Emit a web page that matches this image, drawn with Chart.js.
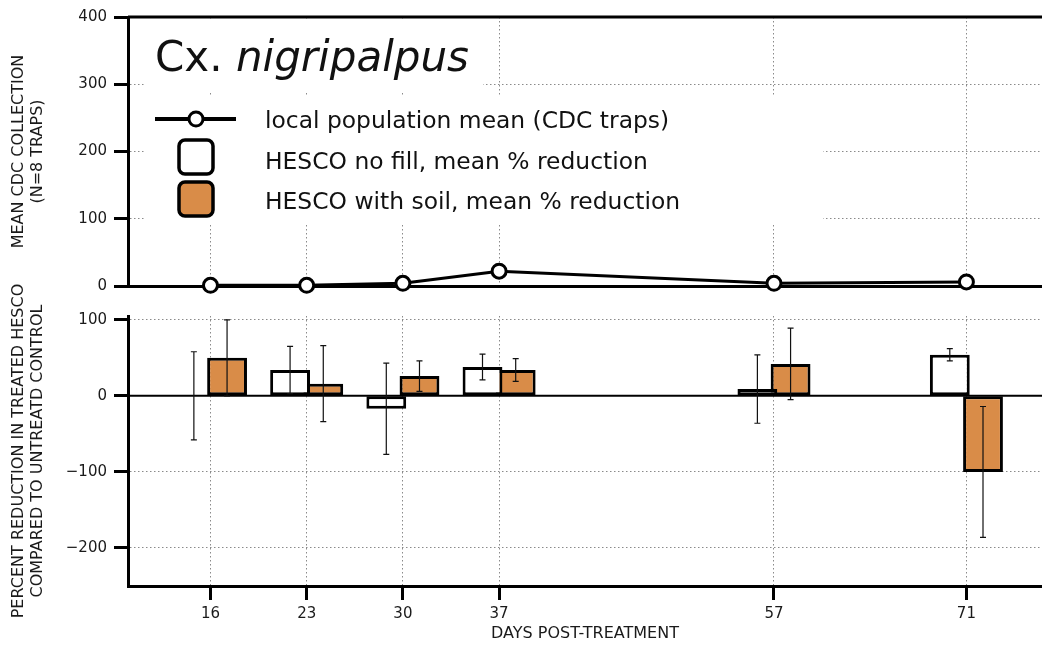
<!DOCTYPE html>
<html>
<head>
<meta charset="utf-8">
<title>Cx. nigripalpus</title>
<script src="https://cdn.jsdelivr.net/npm/chart.js@4.4.1/dist/chart.umd.min.js"></script>
<style>
    html, body { margin: 0; padding: 0; background: #fff; overflow: hidden; }
    #wrap { position: relative; width: 1042px; height: 649px; }
    canvas { position: absolute; left: 0; }
    #chart-top { top: 0; }
    #chart-bottom { top: 280px; }
</style>
</head>
<body>
<div id="wrap">
    <canvas id="chart-top" width="1042" height="296"></canvas>
    <canvas id="chart-bottom" width="1042" height="369"></canvas>
</div>
<script>
Chart.defaults.font.family = '"DejaVu Sans", sans-serif';
Chart.defaults.color = '#1a1a1a';
Chart.defaults.animation = false;

// ── data ────────────────────────────────────────────────────────────────────
const DAYS         = [16, 23, 30, 37, 57, 71];
const POP_MEAN     = [1, 1, 4, 22, 4, 6];          // mean CDC collection
const NO_FILL      = [0, 34, -17, 38, 9, 54];      // % reduction, HESCO no fill
const NO_FILL_ERR  = [58, 31, 60, 17, 45, 8];
const SOIL         = [50, 16, 26, 34, 42, -100];   // % reduction, HESCO with soil
const SOIL_ERR     = [50, 50, 20, 15, 47, 86];
const TOP_TICKS    = [0, 100, 200, 300, 400];
const BOTTOM_TICKS = [-200, -100, 0, 100];
const LEGEND_TEXT  = [
    'local population mean (CDC traps)',
    'HESCO no fill, mean % reduction',
    'HESCO with soil, mean % reduction',
];

const ORANGE = '#d98c48';
const GRID   = '#8a8a8a';
const DOTS   = [1.5, 2.5];
const AXIS_W = 128;
const TEXT_FONT = '"DejaVu Sans", sans-serif';

const pts = (ys) => DAYS.map((d, i) => ({ x: d, y: ys[i] }));
const minus = (v) => (v < 0 ? '\u2212' + Math.abs(v) : String(v));

function dayAxis(showTicks, height) {
    return {
        type: 'linear',
        min: 10,
        max: 76.5,
        offset: false,
        afterBuildTicks: s => { s.ticks = DAYS.map(v => ({ value: v })); },
        afterFit: s => { s.height = height; s.paddingLeft = 0; s.paddingRight = 0; },
        grid: {
            color: GRID, lineWidth: 1, offset: false,
            drawTicks: showTicks, tickLength: 14, tickWidth: 3, tickColor: '#000', tickBorderDash: [],
        },
        border: { color: '#000', width: 3, dash: DOTS },
        ticks: { display: showTicks, padding: 5, font: { size: 15 }, maxRotation: 0, autoSkip: false },
    };
}

function valueAxis(min, max, tickList, titleLines) {
    return {
        min, max,
        afterBuildTicks: s => { s.ticks = tickList.map(v => ({ value: v })); },
        afterFit: s => { s.width = AXIS_W; s.paddingTop = 0; s.paddingBottom = 0; },
        grid: { color: GRID, lineWidth: 1, tickLength: 14, tickWidth: 3, tickColor: '#000', tickBorderDash: [] },
        border: { color: '#000', width: 3, dash: DOTS },
        ticks: { padding: 7, font: { size: 15 }, callback: v => minus(v) },
        title: {
            display: true,
            text: titleLines,
            font: { size: 16, lineHeight: 1.2 },
            padding: { top: 9, bottom: 0 },
        },
    };
}

// ── title, legend and frame of the upper panel ──────────────────────────────
const topDecor = {
    id: 'topDecor',
    beforeDatasetsDraw(chart) {
        const { ctx, chartArea: a } = chart;
        ctx.save();
        ctx.fillStyle = '#fff';
        ctx.fillRect(145, a.top + 2, 338, 74);
        ctx.fillRect(145, 96, 678, 129);

        ctx.strokeStyle = '#000';
        ctx.lineWidth = 3;
        ctx.beginPath();
        ctx.moveTo(a.left, a.top);
        ctx.lineTo(a.right, a.top);
        ctx.stroke();

        ctx.fillStyle = '#111';
        ctx.textBaseline = 'alphabetic';
        ctx.font = '42px ' + TEXT_FONT;
        ctx.fillText('Cx. ', 155, 71);
        const w = ctx.measureText('Cx. ').width;
        ctx.font = 'oblique 42px ' + TEXT_FONT;
        ctx.fillText('nigripalpus', 155 + w, 71);

        // line + marker
        ctx.lineWidth = 4;
        ctx.beginPath();
        ctx.moveTo(155, 119);
        ctx.lineTo(236, 119);
        ctx.stroke();
        ctx.fillStyle = '#fff';
        ctx.lineWidth = 3;
        ctx.beginPath();
        ctx.arc(196, 119, 7, 0, Math.PI * 2);
        ctx.fill();
        ctx.stroke();

        // boxes
        ctx.lineWidth = 3.5;
        [['#fff', 140], [ORANGE, 182]].forEach(([fill, y]) => {
            ctx.fillStyle = fill;
            ctx.beginPath();
            ctx.roundRect(179, y, 34, 34, 6);
            ctx.fill();
            ctx.stroke();
        });

        ctx.fillStyle = '#111';
        ctx.font = '23.4px ' + TEXT_FONT;
        ctx.fillText(LEGEND_TEXT[0], 265, 128);
        ctx.fillText(LEGEND_TEXT[1], 265, 169);
        ctx.fillText(LEGEND_TEXT[2], 265, 209);
        ctx.restore();
    },
};

// ── solid zero line and error bars of the lower panel ───────────────────────
const zeroLine = {
    id: 'zeroLine',
    beforeDatasetsDraw(chart) {
        const { ctx, chartArea: a, scales: { y } } = chart;
        const y0 = y.getPixelForValue(0);
        ctx.save();
        ctx.strokeStyle = '#000';
        ctx.lineWidth = 2;
        ctx.beginPath();
        ctx.moveTo(a.left, y0);
        ctx.lineTo(a.right, y0);
        ctx.stroke();
        ctx.restore();
    },
};

const errorBars = {
    id: 'errorBars',
    afterDatasetsDraw(chart) {
        const { ctx, scales: { y } } = chart;
        ctx.save();
        ctx.strokeStyle = '#111';
        ctx.lineWidth = 1.2;
        chart.data.datasets.forEach((ds, di) => {
            chart.getDatasetMeta(di).data.forEach((bar, i) => {
                const v = ds.data[i].y;
                const e = ds.errors[i];
                const hi = y.getPixelForValue(v + e);
                const lo = y.getPixelForValue(v - e);
                ctx.beginPath();
                ctx.moveTo(bar.x, hi);
                ctx.lineTo(bar.x, lo);
                ctx.moveTo(bar.x - 3, hi);
                ctx.lineTo(bar.x + 3, hi);
                ctx.moveTo(bar.x - 3, lo);
                ctx.lineTo(bar.x + 3, lo);
                ctx.stroke();
            });
        });
        ctx.restore();
    },
};

const common = {
    responsive: false,
    maintainAspectRatio: false,
    devicePixelRatio: 1,
    plugins: { legend: { display: false }, tooltip: { enabled: false } },
};

// ── upper panel: local population (line) ────────────────────────────────────
new Chart(document.getElementById('chart-top'), {
    type: 'line',
    data: {
        datasets: [{
            label: LEGEND_TEXT[0],
            data: pts(POP_MEAN),
            borderColor: '#000',
            borderWidth: 3,
            pointRadius: 7,
            pointBorderWidth: 3,
            pointBackgroundColor: '#fff',
            pointBorderColor: '#000',
            tension: 0,
            clip: false,
        }],
    },
    options: {
        ...common,
        layout: { autoPadding: false, padding: { top: 17, right: 0, bottom: 0, left: 0 } },
        scales: {
            x: dayAxis(false, 10),
            y: valueAxis(0, 400, TOP_TICKS, ['MEAN CDC COLLECTION', '(N=8 TRAPS)']),
        },
    },
    plugins: [topDecor],
});

// ── lower panel: % reduction (bars) ─────────────────────────────────────────
const barStyle = { borderColor: '#000', borderWidth: 3, borderSkipped: false, categoryPercentage: 0.69, barPercentage: 1.2 };

new Chart(document.getElementById('chart-bottom'), {
    type: 'bar',
    data: {
        datasets: [
            { label: LEGEND_TEXT[1], data: pts(NO_FILL), errors: NO_FILL_ERR, backgroundColor: '#fff', ...barStyle },
            { label: LEGEND_TEXT[2], data: pts(SOIL), errors: SOIL_ERR, backgroundColor: ORANGE, ...barStyle },
        ],
    },
    options: {
        ...common,
        layout: { autoPadding: false, padding: { top: 36, right: 0, bottom: 0, left: 0 } },
        scales: {
            x: {
                ...dayAxis(true, 63),
                title: { display: true, text: 'DAYS POST-TREATMENT', font: { size: 16, lineHeight: 1.2 }, padding: { top: 0, bottom: 5.5 } },
            },
            y: valueAxis(-250, 105, BOTTOM_TICKS, ['PERCENT REDUCTION IN TREATED HESCO', 'COMPARED TO UNTREATD CONTROL']),
        },
    },
    plugins: [zeroLine, errorBars],
});
</script>
</body>
</html>
